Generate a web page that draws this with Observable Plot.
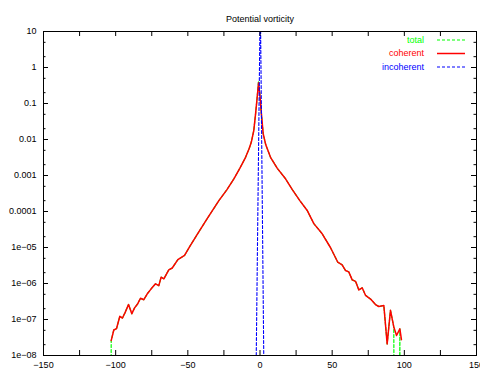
<!DOCTYPE html>
<html><head><meta charset="utf-8">
<script src="https://cdn.jsdelivr.net/npm/d3@7"></script>
<script src="https://cdn.jsdelivr.net/npm/@observablehq/plot@0.6"></script>
<style>
body{margin:0;background:#fff;}
#chart{width:480px;height:375px;}
svg{font-family:"Liberation Sans",Arial,Helvetica,sans-serif;}
</style></head><body><div id="chart"></div>
<script>
const title = "Potential vorticity";
const seriesNames = ["total", "coherent", "incoherent"];
const seriesColors = ["#00ff00", "#ff0000", "#0000ff"];
const xTicks = [-150,-125,-100,-75,-50,-25,0,25,50,75,100,125,150];
const xLabelTicks = [-150,-100,-50,0,50,100,150];
const yDecades = [1e-8,1e-7,1e-6,1e-5,1e-4,1e-3,1e-2,1e-1,1,10];
const yTickLabels = ["1e\u221208","1e\u221207","1e\u221206","1e\u221205","0.0001","0.001","0.01","0.1","1","10"];
const yMinorTicks = [2e-8,5e-8,2e-7,5e-7,2e-6,5e-6,2e-5,5e-5,2e-4,5e-4,2e-3,5e-3,2e-2,5e-2,0.2,0.5,2,5];

// coherent
const coherentX = [-103.1,-101.3,-99.4,-97.1,-95.3,-93.4,-91.1,-88.8,-86.9,-84.7,-82.8,-80.5,-78.2,-75.4,-72.4,-70.1,-68.5,-66.6,-63.2,-60.8,-56.9,-52.3,-48.2,-42.4,-36.6,-28.5,-23,-18.1,-14,-10,-7.5,-6,-4.3,-3.1,-2,-1,0,1,2.2,4,7.3,12,17.7,22.5,27.6,32.7,37.3,43.1,48.8,53.9,56.9,59.2,61.5,63.9,66.2,68.5,70.8,73.1,76.6,80.0,82.3,85.8,88.1,90.4,92.7,94.6,96.9,98.0];
const coherentY = [2.6e-8,5.1e-8,5.6e-8,1.23e-7,1.1e-7,1.58e-7,2.6e-7,1.45e-7,2.1e-7,2.75e-7,3.9e-7,3.55e-7,5.1e-7,7.1e-7,9.8e-7,8.7e-7,1.5e-6,1.35e-6,2.4e-6,2.7e-6,4.6e-6,6.0e-6,1.15e-5,2.7e-5,6.3e-5,2.0e-4,4.0e-4,8.1e-4,1.58e-3,3.2e-3,5.6e-3,8.5e-3,0.0178,0.05,0.141,0.38,0.158,0.05,0.0145,7.1e-3,3.2e-3,1.58e-3,8.1e-4,4.0e-4,2.0e-4,1.07e-4,4.6e-5,2.4e-5,1.0e-5,3.9e-6,3.3e-6,2.3e-6,2.1e-6,1.26e-6,1.15e-6,6.6e-7,7.6e-7,4.7e-7,3.7e-7,2.6e-7,2.3e-7,2.45e-7,2.1e-8,1.8e-7,6.2e-8,3.6e-8,5.5e-8,2.75e-8];

// total
const totalX = [-104.5,-103.1,-101.3,-99.4,-97.1,-95.3,-93.4,-91.1,-88.8,-86.9,-84.7,-82.8,-80.5,-78.2,-75.4,-72.4,-70.1,-68.5,-66.6,-63.2,-60.8,-56.9,-52.3,-48.2,-42.4,-36.6,-28.5,-23,-18.1,-14,-10,-7.5,-6,-4.3,-3.1,-2,-1,0,1,2.2,4,7.3,12,17.7,22.5,27.6,32.7,37.3,43.1,48.8,53.9,56.9,59.2,61.5,63.9,66.2,68.5,70.8,73.1,76.6,80.0,82.3,85.8,88.1,90.4,92.7,94.6,96.9,98.0];
const totalY = [1e-30,2.6e-8,5.1e-8,5.6e-8,1.23e-7,1.1e-7,1.58e-7,2.6e-7,1.45e-7,2.1e-7,2.75e-7,3.9e-7,3.55e-7,5.1e-7,7.1e-7,9.8e-7,8.7e-7,1.5e-6,1.35e-6,2.4e-6,2.7e-6,4.6e-6,6.0e-6,1.15e-5,2.7e-5,6.3e-5,2.0e-4,4.0e-4,8.1e-4,1.58e-3,3.2e-3,5.6e-3,8.5e-3,0.0178,0.05,0.141,0.42,0.158,0.05,0.0145,7.1e-3,3.2e-3,1.58e-3,8.1e-4,4.0e-4,2.0e-4,1.07e-4,4.6e-5,2.4e-5,1.0e-5,3.9e-6,3.3e-6,2.3e-6,2.1e-6,1.26e-6,1.15e-6,6.6e-7,7.6e-7,4.7e-7,3.7e-7,2.6e-7,2.3e-7,2.45e-7,2.1e-8,1.8e-7,6.2e-8,1e-30,5.5e-8,1e-30];

// incoherent
const incoherentX = [-2.6, 0.2, 2.6];
const incoherentY = [1e-8, 100, 1e-8];

const toRows = (xs, ys) => xs.map((x, i) => ({x, y: ys[i]}));
const total = toRows(totalX, totalY);
const coherent = toRows(coherentX, coherentY);
const incoherent = toRows(incoherentX, incoherentY);

const W = 480, H = 375, mL = 43, mR = 4, mT = 31, mB = 20;
const fw = W - mL - mR, fh = H - mT - mB;
const major = 5, minor = 2.5;
const widths = [1.2, 1.5, 1.1];

const chart = Plot.plot({
  width: W, height: H,
  marginLeft: mL, marginRight: mR, marginTop: mT, marginBottom: mB,
  style: {fontFamily: "Liberation Sans, Arial, Helvetica, sans-serif", fontSize: "9px", background: "white", color: "black"},
  x: {domain: [-150, 150], label: null},
  y: {type: "log", domain: [1e-8, 10], label: null},
  marks: [
    Plot.line(total, {x: "x", y: "y", stroke: seriesColors[0], strokeWidth: widths[0], strokeDasharray: "3,2", clip: true}),
    Plot.line(coherent, {x: "x", y: "y", stroke: seriesColors[1], strokeWidth: widths[1], clip: true}),
    Plot.line(incoherent, {x: "x", y: "y", stroke: seriesColors[2], strokeWidth: widths[2], strokeDasharray: "3,2", clip: true}),
    Plot.frame({stroke: "black", strokeWidth: 1}),
    Plot.tickX(xTicks, {x: d => d, insetTop: fh - major, stroke: "black"}),
    Plot.tickX(xTicks, {x: d => d, insetBottom: fh - major, stroke: "black"}),
    Plot.tickY(yDecades, {y: d => d, insetRight: fw - major, stroke: "black"}),
    Plot.tickY(yDecades, {y: d => d, insetLeft: fw - major, stroke: "black"}),
    Plot.tickY(yMinorTicks, {y: d => d, insetRight: fw - minor, stroke: "black"}),
    Plot.tickY(yMinorTicks, {y: d => d, insetLeft: fw - minor, stroke: "black"}),
    Plot.axisX({ticks: xLabelTicks, tickSize: 0, tickPadding: 6, label: null, fontSize: 9}),
    Plot.axisY({ticks: yDecades, tickSize: 0, tickPadding: 7, label: null, fontSize: 9,
      tickFormat: d => yTickLabels[yDecades.indexOf(d)]}),
    Plot.text([title], {frameAnchor: "top", dy: -16, text: d => d, fontSize: 9, fill: "black"})
  ]
});
document.getElementById("chart").appendChild(chart);

// legend (gnuplot style, inside top-right)
const svg = d3.select(chart);
const lg = svg.append("g").attr("font-size", 9).attr("font-family", "Liberation Sans, Arial, sans-serif");
const rowY = [40, 53.5, 67];
const dashes = ["3,2", null, "3,2"];
seriesNames.forEach((name, i) => {
  lg.append("text").attr("x", 424).attr("y", rowY[i]).attr("dy", "0.32em")
    .attr("text-anchor", "end").attr("fill", seriesColors[i]).text(name);
  const ln = lg.append("line").attr("x1", 437).attr("x2", 465).attr("y1", rowY[i]).attr("y2", rowY[i])
    .attr("stroke", seriesColors[i]).attr("stroke-width", widths[i]);
  if (dashes[i]) ln.attr("stroke-dasharray", dashes[i]);
});
</script></body></html>
